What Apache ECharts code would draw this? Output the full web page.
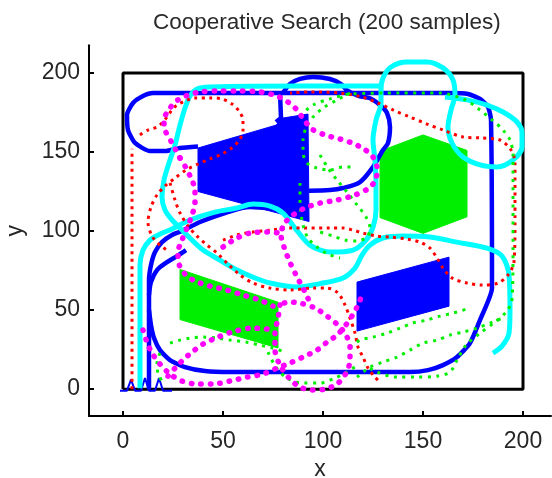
<!DOCTYPE html>
<html>
<head>
<meta charset="utf-8">
<script src="https://cdn.jsdelivr.net/npm/echarts@6/dist/echarts.min.js"></script>
<style>
html, body { margin: 0; padding: 0; background: #fff; }
#main { width: 552px; height: 478px; }
</style>
</head>
<body>
<div id="main"></div>
<script>
// tick labels on both axes
const tickValues = [0, 50, 100, 150, 200];

// search area border
const boxCorners = [[0, 0], [200, 0], [200, 200], [0, 200], [0, 0]];

// searched regions (filled)
const blueTrap = [[37.5, 152.5], [76.5, 167], [80, 171.5], [92.5, 174], [93, 106], [37.5, 125]];
const blueBox = [[117, 67.7], [163, 83.5], [163, 52.5], [117, 36.7]];
const greenHex = [[150, 160.8], [172, 151], [172, 109], [150, 98.5], [128.5, 108.5], [128.5, 150.5]];
const greenBox = [[28.5, 75.7], [77.5, 55], [77.5, 26], [28.5, 44]];

// blue vehicle
const blueStart = [[-1.5, -1], [2, -1], [4, 6], [6, -1], [9, -1], [11, 7], [13, -1], [16, -1], [18, 7], [20, -1], [24.5, -1]];
const blueRise = [[13, 0], [13, 56.3], [13, 69], [14, 78.5], [16, 86.7], [19.5, 93], [24.5, 97.5], [29.5, 100],
  [38.5, 105.7], [51, 111.4], [63.5, 115.2], [75, 114]];
const blueBranch = [[13, 59.5], [14, 67.7], [17, 75.3], [22, 80.3], [27, 84.2], [31.5, 88]];
const blueLoop = [[13, 50], [14, 40.5], [15.5, 32.3], [18.5, 24.7], [23.5, 18.4], [31, 13.9], [41, 11.4], [53.5, 10.8],
  [143.5, 10.8], [152.5, 12], [160, 15.2], [167, 20.3], [173.5, 29.1], [178.5, 43.7], [184.5, 63.9], [184, 170.3],
  [182.5, 178.5], [178.5, 183.6], [172.5, 186.7], [163.5, 187.3], [15, 187.3], [10, 185.4], [5, 181], [2, 173.4],
  [2.5, 163.9], [6, 155.7], [13.5, 150.6], [21, 150.6], [28.5, 152.5], [37.5, 153.5]];
const blueArc = [[80, 187.3], [83.5, 193], [88.5, 196.2], [95, 197.5], [103.5, 196.2], [109, 193], [112, 189],
  [118, 185.4], [123.5, 184], [128.5, 179.7], [132, 174.7], [133.5, 165.8], [132.5, 155.7], [130, 151.3],
  [125, 140.5], [118.5, 131], [110, 127.2], [103.5, 125.9], [93, 125.5]];
const blueNotch = [[78.5, 187.3], [79, 171.5], [76.5, 169]];

// cyan vehicle
const cyanA = [[8.5, 0.6], [8.5, 56.3], [8.5, 78.5], [10, 88], [13.5, 94.3], [18.5, 98.1], [24.5, 101.3], [33.5, 107],
  [46, 112], [57, 114.6], [65, 117.1], [73.5, 115.8], [80, 111.4], [86, 101.9], [93.5, 91.1], [103.5, 86.7],
  [115, 88], [121.5, 94.3], [125, 102.5], [126.5, 113.3], [126.5, 129.1], [126, 144.9], [125, 157.6],
  [126.5, 170.3], [129, 181], [129, 189.2], [130, 196.8], [134, 203.8], [142, 207], [152, 207], [160, 203.2],
  [165, 195.6], [166, 186], [164, 176.6], [162.5, 165.8], [164.5, 155.7], [170, 146.8], [178.5, 141.8],
  [187, 140.5], [195, 144.9], [199.5, 153.2], [199.5, 162], [197, 169], [190, 175.3], [182, 179.7], [172, 183],
  [161, 184.8]];
const cyanB = [[129, 191.8], [88.5, 191.8], [43.5, 191.1], [37, 189.9], [33.5, 185.4], [31, 177.8], [28.5, 167],
  [26, 154.4], [23, 143], [20.5, 132.3], [19.5, 121.5], [21, 113.3], [24.5, 107], [29.5, 100.6], [34.5, 94.3],
  [40, 88], [48.5, 81.6], [57, 75.3], [66, 70.3], [73.5, 67.1], [87, 64.6], [100, 67.1], [110, 70.3], [116, 76.6],
  [119.5, 84.8], [123.5, 91.1], [130, 95.6], [140, 96.8], [153.5, 96.2], [167, 93], [182, 89.2], [189.5, 84.2],
  [193, 72.2], [193.5, 50], [193, 35.4], [189.5, 27.2], [185, 22.8]];

// red vehicle
const redLeft = [[4.5, 0], [4.5, 152]];
const redUpper = [[8.5, 160.8], [12.5, 163.9], [17, 165.8], [20, 169], [22, 172.1], [24.5, 176.6], [27, 179.7],
  [31, 182.3], [36, 184.2], [43.5, 184.2], [49.5, 183.6], [54.5, 180.4], [58, 175.9], [60, 170.3], [60, 163.9],
  [58.5, 158.2], [55, 153.2], [49.5, 148.7], [43.5, 145.6], [37.5, 142.4], [31.5, 138.6], [26, 133.5], [21, 128.5],
  [17, 122.8], [14, 115.2], [12.5, 105.7], [14.5, 96.8], [18.5, 91.1], [23.5, 86.7]];
const redCenter = [[23.5, 130.4], [26, 119.6], [28.5, 111.4], [32.5, 103.2], [37, 96.8], [42, 91.1], [47, 86.1],
  [52.5, 79.1], [58.5, 72.2], [65, 67.1], [73.5, 63.9], [83.5, 62.7], [95, 63.9], [102, 63.9], [107.5, 60.8],
  [111, 53.2], [113.5, 44.9], [116, 35.4], [117.5, 26.6], [120, 20.3], [122.5, 13.3], [126, 7.6], [128.5, 4.4]];
const redRight = [[50, 94.3], [57, 97.5], [65, 99.4], [73.5, 100.6], [83.5, 101.9], [103.5, 101.9], [110, 101.9],
  [115, 100.6], [120, 98.7], [127, 96.8], [133.5, 96.2], [142, 94.9], [148.5, 93], [153.5, 89.2], [157, 82.9],
  [160, 76.6], [164.5, 70.3], [172, 67.1], [179.5, 65.8], [187.5, 67.1], [192.5, 72.2], [195.5, 80.4], [196, 107],
  [196, 143], [194, 151.3], [188.5, 157.6], [178.5, 158.9], [170, 159.5], [160, 163.9], [152, 167.7],
  [143.5, 172.1], [135, 176.6], [127.5, 181], [119.5, 184.8], [108.5, 187.3], [93.5, 188], [83.5, 187.3]];

// green vehicle
const greenTop = [[88.5, 172.8], [95, 179.7], [103.5, 183.6], [113.5, 186.7], [138.5, 187.3], [158.5, 187.3],
  [171, 183], [178.5, 176.6], [184.5, 170.3], [190, 163.9], [193.5, 157.6], [195, 148.1], [195, 88], [194.5, 56.3],
  [191.5, 48.7], [186, 42.4], [178.5, 35.4], [171.5, 27.8], [167, 18.4], [163.5, 10.8], [157, 8.2], [147, 7.6],
  [137, 7.6], [127, 10.8], [121, 15.2]];
const greenDiag1 = [[113.5, 26.6], [118.5, 31], [125, 32.9], [132, 35.4], [138.5, 38.6], [145, 41.8], [152, 43.7],
  [158.5, 46.2], [165, 48.1], [173.5, 51.3]];
const greenDiag2 = [[117, 7.6], [123.5, 13.9], [130, 17.1], [137, 20.3], [143.5, 24.7], [150, 29.1], [157, 31],
  [163.5, 34.2], [170, 36.1], [177, 38.6], [183.5, 41.8], [190, 45]];
const greenBottom = [[72.5, 23.4], [76.5, 13.9], [82, 7], [90, 3.8], [98.5, 3.8], [106, 7], [112, 10.8], [116.5, 14.6]];
const greenLow = [[23.5, 29.1], [28.5, 31], [33.5, 32.3], [40, 32.9], [47, 32.3], [53.5, 31], [62, 29.7],
  [68.5, 27.8], [75, 25.9], [81, 23.4]];
const greenLoop = [[113.5, 187.3], [107, 182.9], [100, 177.8], [95, 172.1], [91.5, 165.2], [90, 157.6], [90, 150],
  [92, 143], [97, 139.9], [103.5, 138.6], [110, 140.5], [116, 140.5]];
const greenDown = [[98.5, 148.1], [102.5, 139.9], [107, 132.3], [112, 124.7], [117, 116.5], [121.5, 108.9],
  [123.5, 101.9], [122, 96.2], [117, 93.7], [111, 94.3], [105, 96.8], [98.5, 99.4]];
const greenEdge = [[88.5, 130.4], [88.5, 119.6], [89, 111.4], [90, 103.8], [92.5, 95.6], [97, 89.9], [102.5, 85.4],
  [108.5, 82.9]];
const greenStart = [[18.5, 22.8], [17, 16.5], [17.5, 10.1], [20, 3.8]];

// magenta vehicle
const magTop = [[28.5, 146.2], [24.5, 155.7], [21, 163.9], [20.5, 170.3], [23.5, 177.8], [27.5, 183], [32.5, 186],
  [38.5, 188], [48.5, 188.6], [58.5, 188.6], [68.5, 188], [77, 185.4], [82.5, 181.6], [87, 176.6], [90.5, 170.3],
  [94.5, 164.5], [101, 160.8], [108.5, 158.2], [114.5, 155.7], [120.5, 151.9], [125, 146.8], [127, 139.9],
  [126.5, 132.9], [123, 127.2], [116, 122.8], [107, 119.6], [98.5, 117.7], [91, 114.6], [85, 110.1], [80.5, 104.4],
  [79, 97.5], [80.5, 89.9], [83, 81.6], [86.5, 72.2], [90.5, 62.7], [94, 53.2]];
const magLeft = [[28.5, 146.2], [31, 141.1], [34, 133.5], [36, 125.9], [36, 117.7], [34.5, 110.1], [32, 101.9],
  [29.5, 94.3], [27.5, 86.7], [28, 79.1], [31, 72.8], [36, 68.4], [43.5, 65.2], [52, 62.7], [60, 59.5], [68.5, 56.3],
  [75, 52.5]];
const magCircle = [[78.5, 53.2], [77.5, 44.9], [76, 35.4], [76, 24.7], [78.5, 15.2], [83.5, 6.3], [88.5, 1.3],
  [94.5, -0.6], [101, 0], [107, 3.2], [111.5, 10.1], [113.5, 18.4], [113.5, 26.6], [111.5, 34.2], [107.5, 40.5],
  [102, 46.2], [96, 51.3], [88.5, 54.4], [82.5, 55.1], [78.5, 53.2]];
const magLong = [[10, 37.3], [12, 29.7], [14.5, 22.8], [18.5, 15.8], [23.5, 9.5], [29.5, 5.1], [37, 3.2], [45, 3.2],
  [53.5, 5.1], [62, 7.6], [70, 9.5], [77, 13.3], [83.5, 16.5], [90, 20.3], [97, 24.7], [102, 29.7], [107, 34.2],
  [111, 39.9], [114.5, 46.2], [117.5, 53.2], [119.5, 59.5]];
const magArc = [[22.5, 8.2], [26, 13.3], [30, 18.4], [34.5, 23.4], [40, 28.5], [47.5, 32.9], [56, 36.7], [64.5, 38.6],
  [72.5, 38]];
const magMid = [[50, 89.9], [57, 95.6], [63.5, 98.7], [72, 99.4], [78.5, 98.7]];

const blue = { color: '#0000ff', width: 4.5, type: 'solid' };
const cyan = { color: '#00ffff', width: 5, type: 'solid' };
const red = { color: '#ff0000', width: 3, type: [3, 4.5] };
const green = { color: '#00f000', width: 3, type: [3, 5.5] };
const magenta = { color: '#ff00ff', width: 5.5, type: [0.5, 9], cap: 'round' };

const tracks = [
  [blueStart, { color: '#0000ff', width: 2, type: 'solid' }, 0],
  [blueRise, blue, 0.3], [blueBranch, blue, 0.3], [blueLoop, blue, 0.2], [blueArc, blue, 0.3], [blueNotch, blue, 0],
  [cyanA, cyan, 0.3], [cyanB, cyan, 0.3],
  [redLeft, red, 0], [redUpper, red, 0.3], [redCenter, red, 0.3], [redRight, red, 0.3],
  [greenTop, green, 0.3], [greenDiag1, green, 0.3], [greenDiag2, green, 0.3], [greenBottom, green, 0.3],
  [greenLow, green, 0.3], [greenLoop, green, 0.3], [greenDown, green, 0.3], [greenEdge, green, 0.3],
  [greenStart, green, 0.3],
  [magTop, magenta, 0.3], [magLeft, magenta, 0.3], [magCircle, magenta, 0.3], [magLong, magenta, 0.3],
  [magArc, magenta, 0.3], [magMid, magenta, 0.3]
];

function area(points, color) {
  return {
    type: 'custom',
    silent: true,
    data: [0],
    renderItem: function (params, api) {
      return {
        type: 'polygon',
        shape: { points: points.map(function (p) { return api.coord(p); }) },
        style: { fill: color, stroke: color, lineWidth: 1 }
      };
    }
  };
}

const series = [
  area(blueTrap, '#0000ff'),
  area(blueBox, '#0000ff'),
  area(greenHex, '#00ee00'),
  area(greenBox, '#00ee00'),
  {
    type: 'line', data: boxCorners, showSymbol: false, silent: true,
    lineStyle: { color: '#000', width: 3 }
  }
];
tracks.forEach(function (t) {
  series.push({
    type: 'line',
    data: t[0],
    smooth: t[2],
    showSymbol: false,
    silent: true,
    lineStyle: Object.assign({}, t[1])
  });
});

const axisText = { color: '#262626', fontSize: 23, fontFamily: 'Liberation Sans' };

const myChart = echarts.init(document.getElementById('main'));
myChart.setOption({
  animation: false,
  backgroundColor: '#fff',
  title: {
    text: 'Cooperative Search (200 samples)',
    left: 148,
    top: 6,
    textStyle: { color: '#2a2a2a', fontSize: 22.5, fontWeight: 'normal', fontFamily: 'Liberation Sans' }
  },
  grid: { left: 89, right: 1, top: 45.3, bottom: 62, outerBoundsMode: 'none', containLabel: false },
  xAxis: {
    type: 'value', min: -17, max: 214,
    name: 'x', nameLocation: 'middle', nameGap: 39,
    nameTextStyle: axisText,
    axisLine: { onZero: false, lineStyle: { color: '#000', width: 2 } },
    axisTick: { inside: true, length: 5, customValues: tickValues, lineStyle: { color: '#000', width: 2 } },
    axisLabel: { customValues: tickValues, margin: 14, ...axisText },
    splitLine: { show: false }
  },
  yAxis: {
    type: 'value', min: -17, max: 217.5,
    name: 'y', nameLocation: 'middle', nameGap: 62,
    nameTextStyle: axisText,
    axisLine: { onZero: false, lineStyle: { color: '#000', width: 2 } },
    axisTick: { inside: true, length: 5, customValues: tickValues, lineStyle: { color: '#000', width: 2 } },
    axisLabel: { customValues: tickValues, margin: 9, ...axisText },
    splitLine: { show: false }
  },
  series: series
});
</script>
</body>
</html>
